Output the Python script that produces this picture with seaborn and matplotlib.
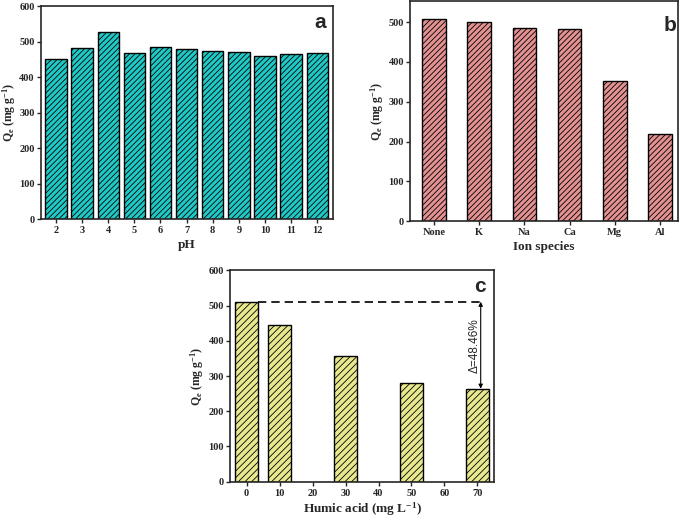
import matplotlib
matplotlib.use("Agg")
import matplotlib.pyplot as plt
import seaborn as sns
import pandas as pd

# data
ph = ["2", "3", "4", "5", "6", "7", "8", "9", "10", "11", "12"]
q_ph = [450, 483, 528, 469, 485, 480, 473, 471, 461, 465, 469]

ions = ["None", "K", "Na", "Ca", "Mg", "Al"]
q_ion = [507, 500, 485, 482, 352, 218]

humic_order = ["0", "10", "20", "30", "40", "50", "60", "70"]
humic = ["0", "10", "30", "50", "70"]
q_humic = [511, 446, 357, 280, 264]
delta_label = "Δ=48.46%"

sns.set_style("ticks")
plt.rcParams["font.family"] = ["Liberation Serif", "DejaVu Serif"]
plt.rcParams["font.weight"] = "bold"
plt.rcParams["axes.labelweight"] = "bold"
plt.rcParams["mathtext.fontset"] = "custom"
plt.rcParams["mathtext.rm"] = "Liberation Serif:bold"
plt.rcParams["mathtext.default"] = "rm"
plt.rcParams["hatch.linewidth"] = 0.6
plt.rcParams["axes.linewidth"] = 1.2

ylab = r"Q$_e$ (mg g$^{-1}$)"

fig = plt.figure(figsize=(6.85, 5.19), dpi=100)
ax_a = fig.add_axes([0.060, 0.578, 0.426, 0.410])
ax_b = fig.add_axes([0.599, 0.574, 0.391, 0.424])
ax_c = fig.add_axes([0.336, 0.072, 0.385, 0.407])


def style(ax, color, hatch="//////"):
    for p in ax.patches:
        p.set_facecolor(color)
        p.set_edgecolor("black")
        p.set_linewidth(1.0)
        p.set_hatch(hatch)
    for s in ax.spines.values():
        s.set_visible(True)
        s.set_linewidth(1.2)
    ax.tick_params(axis="both", direction="out", length=3, width=1.0,
                   labelsize=7.5, top=False, right=False)
    ax.tick_params(axis="y", pad=1.5)
    ax.tick_params(axis="x", pad=2)
    for t in ax.get_xticklabels() + ax.get_yticklabels():
        t.set_fontweight("bold")


def panel_letter(ax, letter, x, y):
    ax.text(x, y, letter, transform=ax.transAxes, ha="center", va="center",
            fontsize=15, fontweight="bold", family="Liberation Sans")


# panel a
df_a = pd.DataFrame({"pH": ph, "Qe": q_ph})
sns.barplot(data=df_a, x="pH", y="Qe", order=ph, ax=ax_a, width=0.82)
ax_a.set_ylim(0, 600)
ax_a.set_yticks(range(0, 601, 100))
ax_a.set_xlim(-0.57, 10.6)
ax_a.set_xlabel("pH", fontsize=9.5, fontweight="bold", labelpad=3)
ax_a.set_ylabel(ylab, fontsize=8.5, fontweight="bold", labelpad=1)
style(ax_a, "#1fc9c6")
panel_letter(ax_a, "a", 0.958, 0.925)

# panel b
df_b = pd.DataFrame({"ion": ions, "Qe": q_ion})
sns.barplot(data=df_b, x="ion", y="Qe", order=ions, ax=ax_b, width=0.52)
ax_b.set_ylim(0, 553)
ax_b.set_yticks(range(0, 501, 100))
ax_b.set_xlim(-0.52, 5.4)
ax_b.set_xlabel("Ion species", fontsize=9.5, fontweight="bold", labelpad=3)
ax_b.set_ylabel(ylab, fontsize=8.5, fontweight="bold", labelpad=2)
style(ax_b, "#e39191")
panel_letter(ax_b, "b", 0.97, 0.89)

# panel c
df_c = pd.DataFrame({"HA": humic, "Qe": q_humic})
sns.barplot(data=df_c, x="HA", y="Qe", order=humic_order, ax=ax_c, width=0.7)
ax_c.set_ylim(0, 600)
ax_c.set_yticks(range(0, 601, 100))
ax_c.set_xlim(-0.5, 7.5)
ax_c.set_xlabel("Humic acid (mg L$^{-1}$)", fontsize=9.5, fontweight="bold",
                labelpad=2)
ax_c.set_ylabel(ylab, fontsize=8.5, fontweight="bold", labelpad=2)
style(ax_c, "#e8e88e", hatch="/////")
panel_letter(ax_c, "c", 0.947, 0.925)

x0 = humic_order.index(humic[0])
x1 = humic_order.index(humic[-1])
ax_c.plot([x0 + 0.35, x1 + 0.1], [q_humic[0], q_humic[0]], ls="--",
          color="black", lw=1.2, dashes=(5, 3))
ax_c.annotate("", xy=(x1 + 0.1, q_humic[0]), xytext=(x1 + 0.1, q_humic[-1]),
              arrowprops=dict(arrowstyle="<|-|>", color="black", lw=0.8,
                              mutation_scale=6, shrinkA=0, shrinkB=0))
ax_c.text(x1 - 0.08, (q_humic[0] + q_humic[-1]) / 2, delta_label, rotation=90,
          ha="center", va="center", fontsize=8.5, fontweight="normal",
          family="Liberation Sans")

fig.savefig("out.png", dpi=100)
